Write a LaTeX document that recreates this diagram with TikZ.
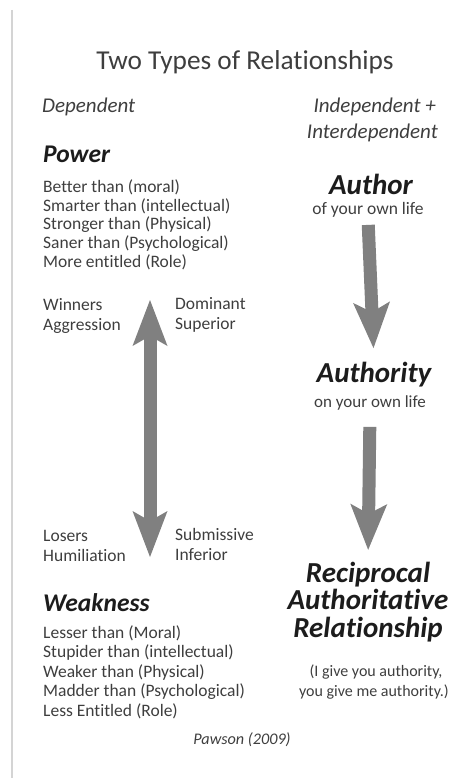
\documentclass[tikz,border=0pt]{standalone}
\usepackage{fontspec}
\setmainfont{Carlito}[Ligatures=NoCommon]
\usetikzlibrary{arrows.meta,positioning}
\definecolor{txtgray}{RGB}{62,62,62}
\definecolor{headgray}{RGB}{28,28,28}
\definecolor{arrowgray}{RGB}{128,128,128}
\definecolor{rulegray}{RGB}{212,212,212}
\tikzset{
  item/.style={inner sep=0pt,text=txtgray,font=\fontsize{17.5}{20}\selectfont,text height=13pt,text depth=4.4pt},
  slant/.style={item,font=\fontsize{21}{25}\selectfont\itshape,text height=15pt,text depth=3pt},
  headline/.style={inner sep=0pt,text=headgray,font=\fontsize{25.5}{30}\selectfont\bfseries\itshape,text height=19pt,text depth=3pt},
  bighead/.style={headline,font=\fontsize{29}{34}\selectfont\bfseries\itshape,text height=22pt,text depth=3.4pt},
  bigarrow/.style={line width=13pt,draw=arrowgray,-{Stealth[length=46pt,width=37pt,inset=10pt,line width=0pt]}},
  twoarrow/.style={line width=13pt,draw=arrowgray,{Stealth[length=46pt,width=35pt,inset=10pt,line width=0pt]}-{Stealth[length=46pt,width=35pt,inset=10pt,line width=0pt]}},
}
\begin{document}
\begin{tikzpicture}[x=1pt,y=-1pt]
  \useasboundingbox (0,0) rectangle (454,778);
  \draw[rulegray,line width=2pt] (12,10) -- (12,778);
  % title and column heads
  \node[item,font=\fontsize{27.3}{32}\selectfont,text height=20pt,text depth=4pt] (title) at (245,62) {Two Types of Relationships};
  \node[slant,anchor=west] (dep) at (42,107) {Dependent};
  \node[slant,anchor=east] (indep) at (436,107) {Independent +};
  \node[slant,anchor=east] (inter) at (438,133) {Interdependent};
  % left column: power
  \node[headline,anchor=west] (power) at (43,155) {Power};
  \foreach \txt [count=\i from 0] in {Better than (moral),Smarter than (intellectual),Stronger than (Physical),Saner than (Psychological),More entitled (Role)}
    \node[item,anchor=west] (pw\i) at (43,{188+18.8*\i}) {\txt};
  \node[item,anchor=west] (winners) at (43,306) {Winners};
  \node[item,anchor=west] (aggr) at (43,326) {Aggression};
  \node[item,anchor=west] (domin) at (175,305) {Dominant};
  \node[item,anchor=west] (super) at (175,325) {Superior};
  % up and down arrow
  \coordinate (uptip) at (150,300);
  \coordinate (downtip) at (150,557);
  \draw[twoarrow] (uptip) -- (downtip);
  \node[item,anchor=west] (losers) at (43,537) {Losers};
  \node[item,anchor=west] (humil) at (43,557) {Humiliation};
  \node[item,anchor=west] (submis) at (175,536) {Submissive};
  \node[item,anchor=west] (infer) at (175,556) {Inferior};
  % left column: weakness
  \node[headline,anchor=west] (weak) at (43,603) {Weakness};
  \foreach \txt [count=\i from 0] in {Lesser than (Moral),Stupider than (intellectual),Weaker than (Physical),Madder than (Psychological),Less Entitled (Role)}
    \node[item,anchor=west] (wk\i) at (43,{634+19.5*\i}) {\txt};
  % right column
  \node[bighead] (author) at (371,185) {Author};
  \node[item] (authsub) at (368,210) {of your own life};
  \node[bighead] (authority) at (374,373) {Authority};
  \node[item,font=\fontsize{17}{20}\selectfont] (authysub) at (370,403) {on your own life};
  \draw[bigarrow,shorten <=6pt,shorten >=12pt] (authsub.south) -- (authority.north);
  \node[inner sep=0pt,text=headgray,font=\fontsize{29}{27.5}\selectfont\bfseries\itshape,align=center] (recip) at (368,602) {Reciprocal\\Authoritative\\Relationship};
  \draw[bigarrow,shorten <=15pt,shorten >=12pt] (authysub.south) -- (recip.north);
  \node[item,font=\fontsize{16}{20}\selectfont] (igive) at (376,672) {(I give you authority,};
  \node[item,font=\fontsize{16}{20}\selectfont] (yougive) at (374,692) {you give me authority.)};
  % source
  \node[item,font=\fontsize{16.2}{20}\selectfont\itshape] (source) at (242,740) {Pawson (2009)};
\end{tikzpicture}
\end{document}
